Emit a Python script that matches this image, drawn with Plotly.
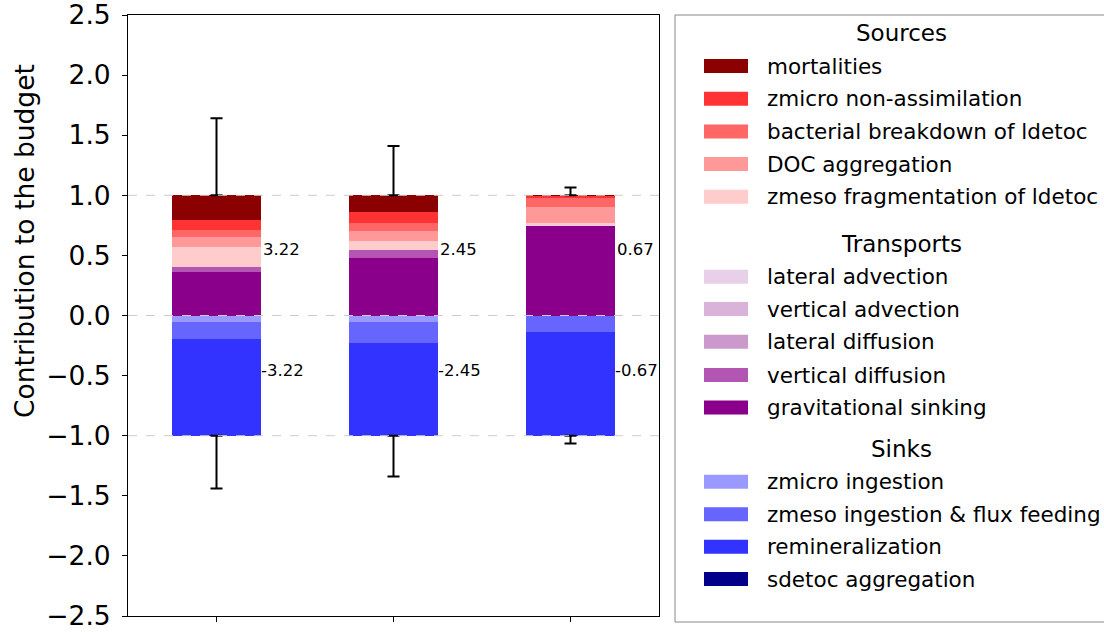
import plotly.graph_objects as go

# ---------------- data ----------------
positions = [0, 1, 2]

source_names = ["mortalities", "zmicro non-assimilation", "bacterial breakdown of ldetoc",
                "DOC aggregation", "zmeso fragmentation of ldetoc"]
mortalities = [0.202, 0.141, 0.005]
zmicro_nonassim = [0.083, 0.086, 0.010]
bacterial_breakdown = [0.058, 0.072, 0.080]
doc_aggregation = [0.086, 0.083, 0.136]
zmeso_fragmentation = [0.166, 0.069, 0.012]

transport_names = ["lateral advection", "vertical advection", "lateral diffusion",
                   "vertical diffusion", "gravitational sinking"]
lateral_advection = [0.0, 0.0, 0.005]
vertical_advection = [0.0, 0.0, 0.0]
lateral_diffusion = [0.0, 0.0, 0.0]
vertical_diffusion = [0.047, 0.067, 0.0]
gravitational_sinking = [0.358, 0.482, 0.752]

sink_names = ["zmicro ingestion", "zmeso ingestion & flux feeding", "remineralization",
              "sdetoc aggregation"]
zmicro_ingestion = [-0.055, -0.055, 0.0]
zmeso_ingestion = [-0.139, -0.172, -0.139]
remineralization = [-0.806, -0.773, -0.861]
sdetoc_aggregation = [0.0, 0.0, 0.0]

totals = [3.22, 2.45, 0.67]
err_up = [0.64, 0.41, 0.065]
err_down = [0.44, 0.34, 0.065]

y_ticks = [-2.5, -2.0, -1.5, -1.0, -0.5, 0.0, 0.5, 1.0, 1.5, 2.0, 2.5]

# ---------------- styles ----------------
source_colors = ["#8B0000", "#FF3333", "#FF6666", "#FF9999", "#FFCCCC"]
transport_colors = ["#E8D1E8", "#D9B3D9", "#CC99CC", "#B355B3", "#8B008B"]
sink_colors = ["#9999FF", "#6666FF", "#3333FF", "#00008B"]

sources = [mortalities, zmicro_nonassim, bacterial_breakdown, doc_aggregation, zmeso_fragmentation]
transports = [lateral_advection, vertical_advection, lateral_diffusion, vertical_diffusion,
              gravitational_sinking]
sinks = [zmicro_ingestion, zmeso_ingestion, remineralization, sdetoc_aggregation]

FONT = "DejaVu Sans"
W_FIG, H_FIG = 1104, 632
L, R, T, B = 128, 659, 15, 616
PW, PH = R - L, B - T


def pxx(px):
    return (px - L) / PW


def pxy(py):
    return (B - py) / PH


fig = go.Figure()

# sinks first (stack downward from 0 in this order)
for name, vals, col in zip(sink_names, sinks, sink_colors):
    fig.add_trace(go.Bar(x=positions, y=vals, name=name, width=0.5,
                         marker=dict(color=col, line=dict(width=0)), showlegend=False))
# transports then sources, bottom-up (reverse of legend order)
for name, vals, col in list(zip(transport_names, transports, transport_colors))[::-1]:
    fig.add_trace(go.Bar(x=positions, y=vals, name=name, width=0.5,
                         marker=dict(color=col, line=dict(width=0)), showlegend=False))
for name, vals, col in list(zip(source_names, sources, source_colors))[::-1]:
    fig.add_trace(go.Bar(x=positions, y=vals, name=name, width=0.5,
                         marker=dict(color=col, line=dict(width=0)), showlegend=False))

# error bars
fig.add_trace(go.Scatter(x=positions, y=[1.0] * 3, mode="markers",
                         marker=dict(size=1, color="rgba(0,0,0,0)"),
                         error_y=dict(type="data", symmetric=False, array=err_up,
                                      arrayminus=[0] * 3, color="black", thickness=2, width=6),
                         showlegend=False, hoverinfo="skip"))
fig.add_trace(go.Scatter(x=positions, y=[-1.0] * 3, mode="markers",
                         marker=dict(size=1, color="rgba(0,0,0,0)"),
                         error_y=dict(type="data", symmetric=False, array=[0] * 3,
                                      arrayminus=err_down, color="black", thickness=2, width=6),
                         showlegend=False, hoverinfo="skip"))

shapes = []
annotations = []

# dashed reference lines
for yv in [1.0, 0.0, -1.0]:
    shapes.append(dict(type="line", xref="paper", yref="y", x0=0, x1=1, y0=yv, y1=yv,
                       line=dict(color="#cccccc", width=1, dash="dash"), layer="above"))

# total labels
for p, tot in zip(positions, totals):
    annotations.append(dict(x=p + 0.25, y=0.545, xref="x", yref="y", text=f"{tot:.2f}",
                            showarrow=False, xanchor="left", yanchor="middle",
                            font=dict(family=FONT, size=16.5, color="black")))
    annotations.append(dict(x=p + 0.25, y=-0.455, xref="x", yref="y", text=f"-{tot:.2f}",
                            showarrow=False, xanchor="left", yanchor="middle", xshift=-2,
                            font=dict(family=FONT, size=16.5, color="black")))

# y-axis title
annotations.append(dict(x=pxx(24), y=pxy(241), xref="paper", yref="paper",
                        text="Contribution to the budget", textangle=-90, showarrow=False,
                        xanchor="center", yanchor="middle",
                        font=dict(family=FONT, size=26.5, color="black")))

# custom legend
shapes.append(dict(type="rect", xref="paper", yref="paper", x0=pxx(675), x1=pxx(1130),
                   y0=pxy(622), y1=pxy(15), line=dict(color="#888888", width=1),
                   fillcolor="white", layer="below"))

groups = [
    ("Sources", 33.3, source_names, source_colors, [66, 98.7, 131.5, 164, 196.7]),
    ("Transports", 243.5, transport_names, transport_colors, [276.7, 309, 341.7, 375, 407.5]),
    ("Sinks", 448.5, sink_names, sink_colors, [481.7, 514.3, 546.7, 579]),
]
for title, ty, names, cols, ys in groups:
    annotations.append(dict(x=pxx(902), y=pxy(ty), xref="paper", yref="paper", text=title,
                            showarrow=False, xanchor="center", yanchor="middle",
                            font=dict(family=FONT, size=23, color="black")))
    for nm, c, yy in zip(names, cols, ys):
        shapes.append(dict(type="rect", xref="paper", yref="paper", x0=pxx(704), x1=pxx(748),
                           y0=pxy(yy + 7), y1=pxy(yy - 7), line=dict(width=0), fillcolor=c))
        annotations.append(dict(x=pxx(765), y=pxy(yy), xref="paper", yref="paper", text=nm,
                                showarrow=False, xanchor="left", yanchor="middle",
                                font=dict(family=FONT, size=21.5, color="black")))

fig.update_layout(
    width=W_FIG, height=H_FIG,
    margin=dict(l=L, r=W_FIG - R, t=T, b=H_FIG - B, autoexpand=False),
    barmode="relative", bargap=0,
    plot_bgcolor="white", paper_bgcolor="white",
    font=dict(family=FONT, color="black"),
    shapes=shapes, annotations=annotations,
    showlegend=False,
)
fig.update_xaxes(range=[-0.5, 2.5], tickvals=positions, ticktext=["", "", ""],
                 ticks="outside", ticklen=5, tickcolor="black", showgrid=False, zeroline=False,
                 showline=True, linecolor="black", linewidth=1, mirror=True)
fig.update_yaxes(range=[-2.5, 2.5], tickvals=y_ticks, tickformat=".1f",
                 ticks="outside", ticklen=5, tickcolor="black", showgrid=False, zeroline=False,
                 showline=True, linecolor="black", linewidth=1, mirror=True,
                 ticklabelstandoff=6, ticklabeloverflow="allow",
                 tickfont=dict(family=FONT, size=26.5, color="black"))

fig.write_html("out.html", config={"displayModeBar": False},
               post_script="document.body.style.margin='0';document.body.style.overflow='hidden';")
